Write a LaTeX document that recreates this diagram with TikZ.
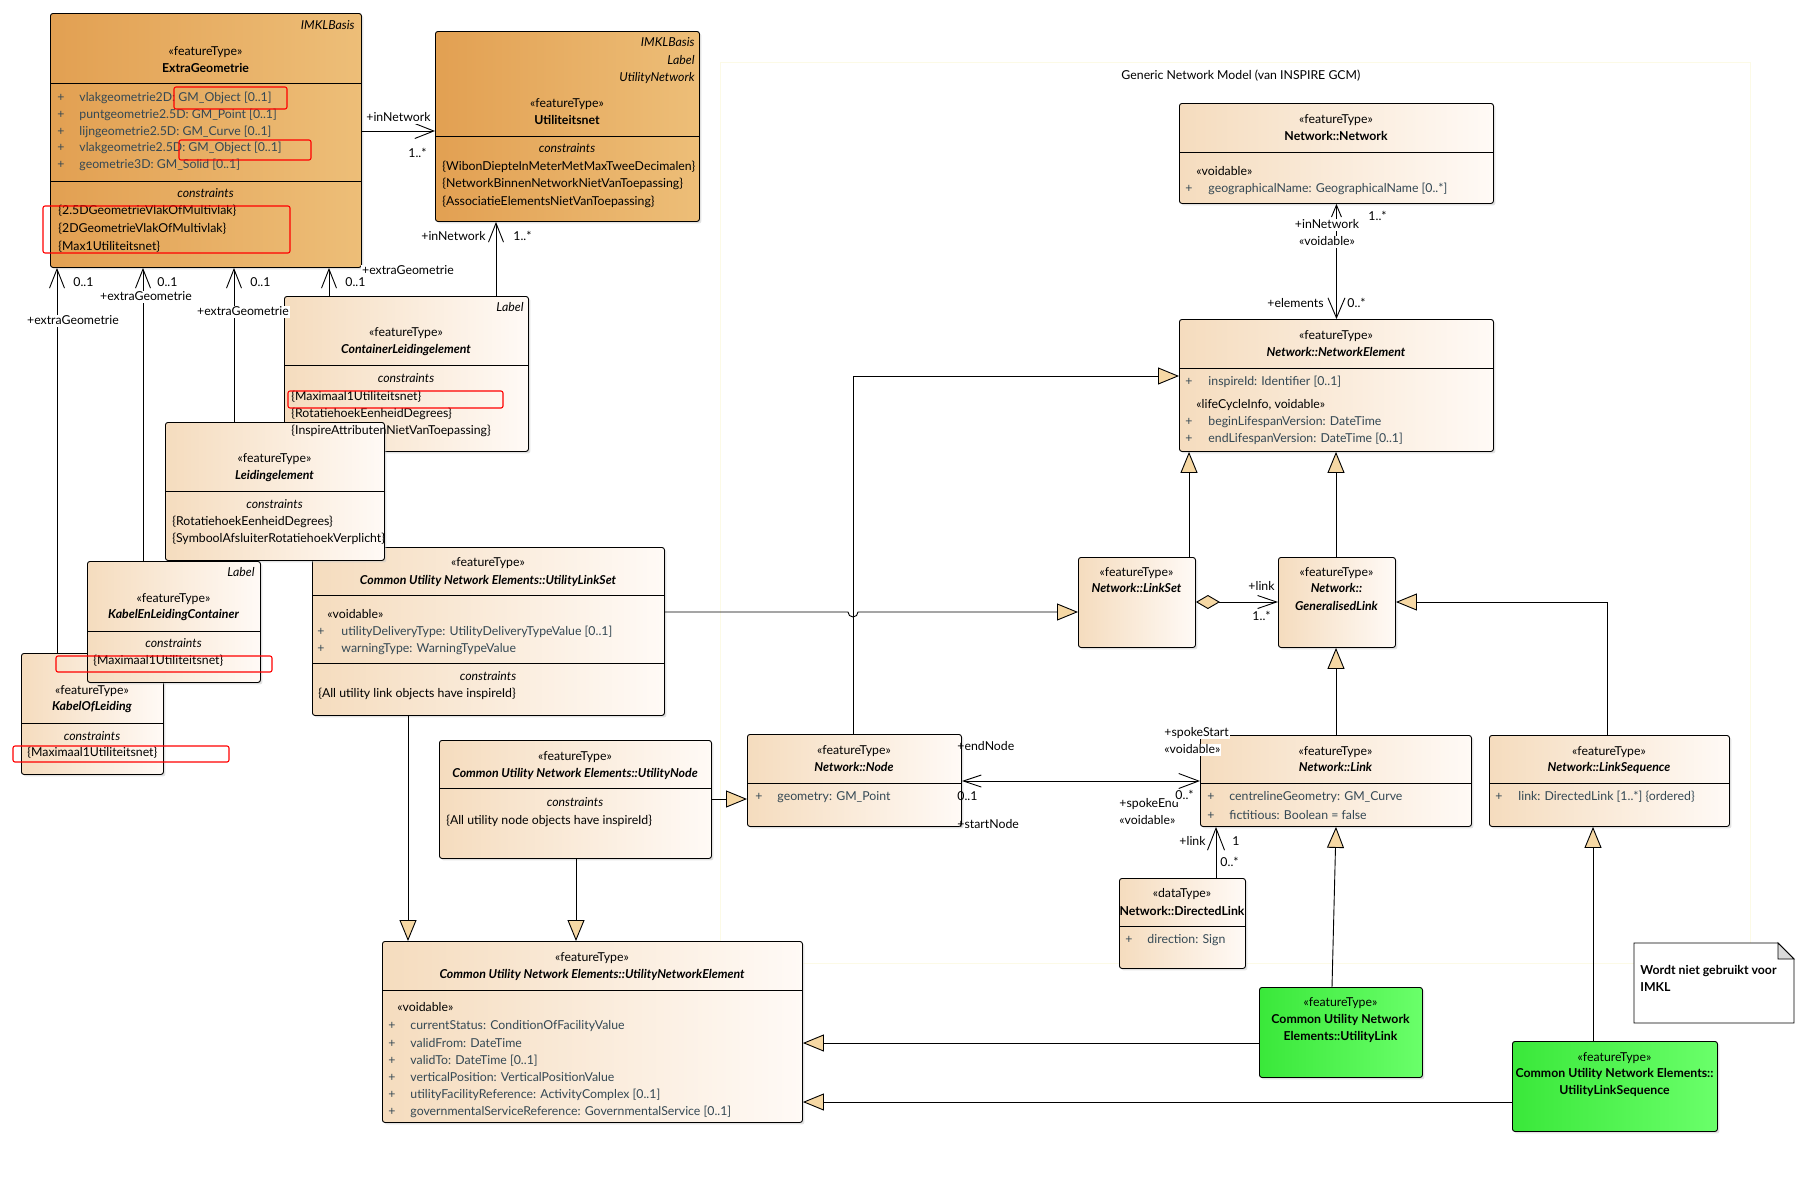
\documentclass[tikz,border=0pt]{standalone}
\usepackage{fontspec}
\setmainfont{Lato}
\usetikzlibrary{arrows.meta,shadows}

\definecolor{basisL}{RGB}{226,160,82}
\definecolor{basisR}{RGB}{237,190,120}
\definecolor{elemL}{RGB}{245,220,190}
\definecolor{elemR}{RGB}{255,250,246}
\definecolor{cuneL}{RGB}{58,232,58}
\definecolor{cuneR}{RGB}{106,255,106}
\definecolor{genfill}{RGB}{246,216,164}
\definecolor{attrcol}{RGB}{52,72,84}
\definecolor{framecol}{RGB}{252,250,230}

\newcommand{\umlsize}{\fontsize{12.3}{17}\selectfont}
\newcommand{\splitat}[2]{\draw (#1.west |- 0,#2) -- (#1.east |- 0,#2);}

\tikzset{
  classbox/.style = {draw, rounded corners=2.5pt, anchor=north west, inner sep=0pt,
                     drop shadow={shadow xshift=2pt, shadow yshift=-2pt, fill=black!22}},
  basisbox/.style = {classbox, left color=basisL, right color=basisR},
  elembox/.style  = {classbox, left color=elemL, right color=elemR},
  cunebox/.style  = {classbox, left color=cuneL, right color=cuneR},
  txt/.style      = {inner sep=0pt, text height=9.5pt, text depth=2.5pt, font=\umlsize},
  stereo/.style   = {txt},
  cname/.style    = {txt, font=\umlsize\bfseries},
  aname/.style    = {txt, font=\umlsize\bfseries\itshape},
  tagtext/.style  = {txt, anchor=east, font=\umlsize\itshape},
  comphead/.style = {txt, font=\umlsize\itshape},
  plusmark/.style = {txt, anchor=west, text=attrcol},
  attr/.style     = {txt, anchor=west, text=attrcol},
  cons/.style     = {txt, anchor=west},
  role/.style     = {txt, fill=white, inner xsep=1pt},
  gen/.style      = {-{Triangle[length=21pt,width=17pt,fill=genfill]}},
  nav/.style      = {-{Straight Barb[length=19pt,width=15pt]}},
  redmark/.style  = {draw=red, rounded corners=2pt, line width=1.1pt},
  modelframe/.style = {draw=framecol, line width=0.8pt}
}

\begin{document}
\begin{tikzpicture}[x=1pt, y=-1pt, line width=0.9pt]
  \fill[white] (0,0) rectangle (1817,1178);
  \useasboundingbox (0,0) rectangle (1817,1178);

  % Generic network model area
  \draw[modelframe] (720,62) rectangle (1750,963);
  \node[txt, anchor=west] (gnmTitle) at (1121,76) {Generic Network Model (van INSPIRE GCM)};

  % ExtraGeometrie
  \node[basisbox, minimum width=311pt, minimum height=254pt] (extraGeom) at (50,13) {};
  \splitat{extraGeom}{83}
  \splitat{extraGeom}{181}
  \node[tagtext] (extraGeom-tag) at (355,26) {IMKLBasis};
  \node[stereo] (extraGeom-st) at (205.5,52) {«featureType»};
  \node[cname] (extraGeom-nm) at (205.5,69) {ExtraGeometrie};
  \foreach \y/\txt [count=\i] in {98/{vlakgeometrie2D: GM\_Object [0..1]}, 115/{puntgeometrie2.5D: GM\_Point [0..1]},
      132/{lijngeometrie2.5D: GM\_Curve [0..1]}, 148/{vlakgeometrie2.5D: GM\_Object [0..1]}, 165/{geometrie3D: GM\_Solid [0..1]}}{
    \node[plusmark] (extraGeom-p\i) at (57,\y) {+};
    \node[attr] (extraGeom-a\i) at (79,\y) {\txt};
  }
  \node[comphead] (extraGeom-ch) at (205.5,194) {constraints};
  \foreach \y/\txt [count=\i] in {211/{\{2.5DGeometrieVlakOfMultivlak\}}, 229/{\{2DGeometrieVlakOfMultivlak\}}, 247/{\{Max1Utiliteitsnet\}}}{
    \node[cons] (extraGeom-c\i) at (58,\y) {\txt};
  }

  % Utiliteitsnet
  \node[basisbox, minimum width=264pt, minimum height=190pt] (utilNet) at (435,31) {};
  \splitat{utilNet}{136}
  \node[tagtext] (utilNet-t1) at (695,43) {IMKLBasis};
  \node[tagtext] (utilNet-t2) at (695,61) {Label};
  \node[tagtext] (utilNet-t3) at (695,78) {UtilityNetwork};
  \node[stereo] (utilNet-st) at (567,104) {«featureType»};
  \node[cname] (utilNet-nm) at (567,121) {Utiliteitsnet};
  \node[comphead] (utilNet-ch) at (567,149) {constraints};
  \foreach \y/\txt [count=\i] in {167/{\{WibonDiepteInMeterMetMaxTweeDecimalen\}}, 184/{\{NetworkBinnenNetworkNietVanToepassing\}},
      202/{\{AssociatieElementsNietVanToepassing\}}}{
    \node[cons] (utilNet-c\i) at (442,\y) {\txt};
  }

  % UtilityLinkSet
  \node[elembox, minimum width=352pt, minimum height=168pt] (utilLinkSet) at (312,547) {};
  \splitat{utilLinkSet}{595}
  \splitat{utilLinkSet}{663}
  \node[stereo] (utilLinkSet-st) at (488,563) {«featureType»};
  \node[aname] (utilLinkSet-nm) at (488,581) {Common Utility Network Elements::UtilityLinkSet};
  \node[cons] (utilLinkSet-v) at (327,615) {«voidable»};
  \foreach \y/\txt [count=\i] in {632/{utilityDeliveryType: UtilityDeliveryTypeValue [0..1]}, 649/{warningType: WarningTypeValue}}{
    \node[plusmark] (utilLinkSet-p\i) at (317,\y) {+};
    \node[attr] (utilLinkSet-a\i) at (341,\y) {\txt};
  }
  \node[comphead] (utilLinkSet-ch) at (488,677) {constraints};
  \node[cons] (utilLinkSet-c1) at (318,694) {\{All utility link objects have inspireId\}};

  % ContainerLeidingelement (its texts stay on top of Leidingelement)
  \node[elembox, minimum width=244pt, minimum height=155pt] (contLeiding) at (284,296) {};
  \splitat{contLeiding}{365}

  % Leidingelement
  \node[elembox, minimum width=219pt, minimum height=138pt] (leiding) at (165,422) {};
  \splitat{leiding}{491}
  \node[stereo] (leiding-st) at (274.5,459) {«featureType»};
  \node[aname] (leiding-nm) at (274.5,476) {Leidingelement};
  \node[comphead] (leiding-ch) at (274.5,505) {constraints};
  \node[cons] (leiding-c1) at (172,522) {\{RotatiehoekEenheidDegrees\}};
  \node[cons] (leiding-c2) at (172,539) {\{SymboolAfsluiterRotatiehoekVerplicht\}};

  \node[tagtext] (contLeiding-tag) at (524,308) {Label};
  \node[stereo] (contLeiding-st) at (406,333) {«featureType»};
  \node[aname] (contLeiding-nm) at (406,350) {ContainerLeidingelement};
  \node[comphead] (contLeiding-ch) at (406,379) {constraints};
  \foreach \y/\txt [count=\i] in {397/{\{Maximaal1Utiliteitsnet\}}, 414/{\{RotatiehoekEenheidDegrees\}},
      431/{\{InspireAttributenNietVanToepassing\}}}{
    \node[cons] (contLeiding-c\i) at (291,\y) {\txt};
  }

  % KabelOfLeiding
  \node[elembox, minimum width=142pt, minimum height=121pt] (kabelLeiding) at (21,653) {};
  \splitat{kabelLeiding}{723}
  \node[stereo] (kabelLeiding-st) at (92,691) {«featureType»};
  \node[aname] (kabelLeiding-nm) at (92,707) {KabelOfLeiding};
  \node[comphead] (kabelLeiding-ch) at (92,737) {constraints};
  \node[cons] (kabelLeiding-c1) at (27,753) {\{Maximaal1Utiliteitsnet\}};

  % KabelEnLeidingContainer
  \node[elembox, minimum width=173pt, minimum height=121pt] (kabelCont) at (87,561) {};
  \splitat{kabelCont}{631}
  \node[tagtext] (kabelCont-tag) at (255,573) {Label};
  \node[stereo] (kabelCont-st) at (173.5,599) {«featureType»};
  \node[aname] (kabelCont-nm) at (173.5,615) {KabelEnLeidingContainer};
  \node[comphead] (kabelCont-ch) at (173.5,644) {constraints};
  \node[cons] (kabelCont-c1) at (93,661) {\{Maximaal1Utiliteitsnet\}};

  % UtilityNode
  \node[elembox, minimum width=272pt, minimum height=118pt] (utilNode) at (439,740) {};
  \splitat{utilNode}{788}
  \node[stereo] (utilNode-st) at (575,757) {«featureType»};
  \node[aname] (utilNode-nm) at (575,774) {Common Utility Network Elements::UtilityNode};
  \node[comphead] (utilNode-ch) at (575,803) {constraints};
  \node[cons] (utilNode-c1) at (446,821) {\{All utility node objects have inspireId\}};

  % UtilityNetworkElement
  \node[elembox, minimum width=420pt, minimum height=181pt] (utilNetElem) at (382,941) {};
  \splitat{utilNetElem}{990}
  \node[stereo] (utilNetElem-st) at (592,958) {«featureType»};
  \node[aname] (utilNetElem-nm) at (592,975) {Common Utility Network Elements::UtilityNetworkElement};
  \node[cons] (utilNetElem-v) at (397,1008) {«voidable»};
  \foreach \y/\txt [count=\i] in {1026/{currentStatus: ConditionOfFacilityValue}, 1044/{validFrom: DateTime},
      1061/{validTo: DateTime [0..1]}, 1078/{verticalPosition: VerticalPositionValue},
      1095/{utilityFacilityReference: ActivityComplex [0..1]}, 1112/{governmentalServiceReference: GovernmentalService [0..1]}}{
    \node[plusmark] (utilNetElem-p\i) at (388,\y) {+};
    \node[attr] (utilNetElem-a\i) at (410,\y) {\txt};
  }

  % Network::Network
  \node[elembox, minimum width=314pt, minimum height=100pt] (network) at (1179,103) {};
  \splitat{network}{152}
  \node[stereo] (network-st) at (1336,120) {«featureType»};
  \node[cname] (network-nm) at (1336,137) {Network::Network};
  \node[cons] (network-v) at (1196,172) {«voidable»};
  \node[plusmark] (network-p1) at (1185,189) {+};
  \node[attr] (network-a1) at (1208,189) {geographicalName: GeographicalName [0..*]};

  % Network::NetworkElement
  \node[elembox, minimum width=314pt, minimum height=132pt] (netElem) at (1179,319) {};
  \splitat{netElem}{368}
  \node[stereo] (netElem-st) at (1336,336) {«featureType»};
  \node[aname] (netElem-nm) at (1336,353) {Network::NetworkElement};
  \node[plusmark] (netElem-p1) at (1185,382) {+};
  \node[attr] (netElem-a1) at (1208,382) {inspireId: Identifier [0..1]};
  \node[cons] (netElem-v) at (1196,405) {«lifeCycleInfo, voidable»};
  \foreach \y/\txt [count=\i from 2] in {422/{beginLifespanVersion: DateTime}, 439/{endLifespanVersion: DateTime [0..1]}}{
    \node[plusmark] (netElem-p\i) at (1185,\y) {+};
    \node[attr] (netElem-a\i) at (1208,\y) {\txt};
  }

  % Network::LinkSet and Network::GeneralisedLink
  \node[elembox, minimum width=117pt, minimum height=90pt] (linkSet) at (1078,557) {};
  \node[stereo] (linkSet-st) at (1136.5,573) {«featureType»};
  \node[aname] (linkSet-nm) at (1136.5,589) {Network::LinkSet};
  \node[elembox, minimum width=117pt, minimum height=90pt] (genLink) at (1278,557) {};
  \node[stereo] (genLink-st) at (1336.5,573) {«featureType»};
  \node[aname] (genLink-nm1) at (1336.5,589) {Network::};
  \node[aname] (genLink-nm2) at (1336.5,607) {GeneralisedLink};

  % Network::Node
  \node[elembox, minimum width=214pt, minimum height=92pt] (netNode) at (747,734) {};
  \splitat{netNode}{783}
  \node[stereo] (netNode-st) at (854,751) {«featureType»};
  \node[aname] (netNode-nm) at (854,768) {Network::Node};
  \node[plusmark] (netNode-p1) at (755,797) {+};
  \node[attr] (netNode-a1) at (777,797) {geometry: GM\_Point};

  % Network::Link
  \node[elembox, minimum width=271pt, minimum height=91pt] (netLink) at (1200,735) {};
  \splitat{netLink}{783}
  \node[stereo] (netLink-st) at (1335.5,752) {«featureType»};
  \node[aname] (netLink-nm) at (1335.5,768) {Network::Link};
  \foreach \y/\txt [count=\i] in {797/{centrelineGeometry: GM\_Curve}, 816/{fictitious: Boolean = false}}{
    \node[plusmark] (netLink-p\i) at (1207,\y) {+};
    \node[attr] (netLink-a\i) at (1229,\y) {\txt};
  }

  % Network::LinkSequence
  \node[elembox, minimum width=240pt, minimum height=91pt] (linkSeq) at (1489,735) {};
  \splitat{linkSeq}{783}
  \node[stereo] (linkSeq-st) at (1609,752) {«featureType»};
  \node[aname] (linkSeq-nm) at (1609,768) {Network::LinkSequence};
  \node[plusmark] (linkSeq-p1) at (1495,797) {+};
  \node[attr] (linkSeq-a1) at (1518,797) {link: DirectedLink [1..*] \{ordered\}};

  % Network::DirectedLink
  \node[elembox, minimum width=126pt, minimum height=90pt] (dirLink) at (1119,878) {};
  \splitat{dirLink}{926}
  \node[stereo] (dirLink-st) at (1182,894) {«dataType»};
  \node[cname] (dirLink-nm) at (1182,912) {Network::DirectedLink};
  \node[plusmark] (dirLink-p1) at (1125,940) {+};
  \node[attr] (dirLink-a1) at (1147,940) {direction: Sign};

  % Common Utility Network Elements (not used)
  \node[cunebox, minimum width=163pt, minimum height=90pt] (utilLink) at (1259,987) {};
  \node[stereo] (utilLink-st) at (1340.5,1003) {«featureType»};
  \node[cname] (utilLink-nm1) at (1340.5,1020) {Common Utility Network};
  \node[cname] (utilLink-nm2) at (1340.5,1037) {Elements::UtilityLink};
  \node[cunebox, minimum width=205pt, minimum height=90pt] (utilLinkSeq) at (1512,1041) {};
  \node[stereo] (utilLinkSeq-st) at (1614.5,1058) {«featureType»};
  \node[cname] (utilLinkSeq-nm1) at (1614.5,1074) {Common Utility Network Elements::};
  \node[cname] (utilLinkSeq-nm2) at (1614.5,1091) {UtilityLinkSequence};

  % Note
  \draw[fill=white] (1634,943) -- (1778,943) -- (1794,959) -- (1794,1023) -- (1634,1023) -- cycle;
  \draw[fill=black!14] (1778,943) -- (1778,959) -- (1794,959) -- cycle;
  \node[cname, anchor=west] (note-l1) at (1640,971) {Wordt niet gebruikt voor};
  \node[cname, anchor=west] (note-l2) at (1640,988) {IMKL};

  % Generalisations
  \draw[gen] (utilLinkSet.south -| 408,0) -- (utilNetElem.north -| 408,0);
  \draw[gen] (utilNode.south -| 576,0) -- (utilNetElem.north -| 576,0);
  \draw[gen] (utilNode.east |- 0,799) -- (netNode.west |- 0,799);
  \draw[gen] (utilLink.west |- 0,1043) -- (utilNetElem.east |- 0,1043);
  \draw[gen] (utilLinkSeq.west |- 0,1102) -- (utilNetElem.east |- 0,1102);
  \draw[gen] (utilLink.north -| 1332,0) -- (netLink.south -| 1336,0);
  \draw[gen] (utilLinkSeq.north -| 1593,0) -- (linkSeq.south -| 1593,0);
  \draw[gen] (netLink.north -| 1336,0) -- (genLink.south -| 1336,0);
  \draw[gen] (linkSeq.north -| 1607,0) |- (genLink.east |- 0,602);
  \draw[gen] (linkSet.north -| 1189,0) -- (netElem.south -| 1189,0);
  \draw[gen] (genLink.north -| 1336,0) -- (netElem.south -| 1336,0);
  \draw[gen] (netNode.north -| 853,0) |- (netElem.west |- 0,376);
  \coordinate (hop) at (848,612);
  \draw[gen] (utilLinkSet.east |- hop) -- (hop) arc[start angle=180, end angle=360, radius=5pt] -- (linkSet.west |- hop);

  % Associations
  \draw[nav] (57,0 |- kabelLeiding.north) -- (57,0 |- extraGeom.south);
  \draw[nav] (143,0 |- kabelCont.north) -- (143,0 |- extraGeom.south);
  \draw[nav] (234,0 |- leiding.north) -- (234,0 |- extraGeom.south);
  \draw[nav] (329,0 |- contLeiding.north) -- (329,0 |- extraGeom.south);
  \draw[nav] (extraGeom.east |- 0,131) -- (utilNet.west |- 0,131);
  \draw[nav] (496,0 |- contLeiding.north) -- (496,0 |- utilNet.south);
  \draw[{Straight Barb[length=12pt,width=10pt]}-{Straight Barb[length=20pt,width=17pt]}] (network.south) -- (netElem.north);
  \draw[{Diamond[length=24pt,width=14pt,fill=genfill]}-{Straight Barb[length=19pt,width=13pt]}] (linkSet.east |- 0,602) -- (genLink.west |- 0,602);
  \draw[{Straight Barb[length=18pt,width=12pt]}-{Straight Barb[length=20pt,width=15pt]}] (netNode.east |- 0,781) -- (netLink.west |- 0,781);
  \draw[-{Straight Barb[length=22pt,width=17pt]}] (1216,0 |- dirLink.north) -- (1216,0 |- netLink.south);

  % Role names and multiplicities
  \foreach \x [count=\i] in {73,157,250,345}{
    \node[txt, anchor=west] (eg-m\i) at (\x,283) {0..1};
  }
  \node[role] (eg-r1) at (73,321) {+extraGeometrie};
  \node[role] (eg-r2) at (146,297) {+extraGeometrie};
  \node[role] (eg-r3) at (243,312) {+extraGeometrie};
  \node[role] (eg-r4) at (408,271) {+extraGeometrie};
  \node[role, anchor=east] (un-r1) at (432,118) {+inNetwork};
  \node[txt, anchor=west] (un-m1) at (408,154) {1..*};
  \node[role, anchor=east] (un-r2) at (487,237) {+inNetwork};
  \node[txt, anchor=west] (un-m2) at (513,237) {1..*};
  \node[role] (nw-r1) at (1327,225) {+inNetwork};
  \node[role] (nw-v1) at (1327,242) {«voidable»};
  \node[txt, anchor=west] (nw-m1) at (1368,217) {1..*};
  \node[txt, anchor=east] (ne-r1) at (1324,304) {+elements};
  \node[txt, anchor=west] (ne-m1) at (1347,304) {0..*};
  \node[txt, anchor=east] (gl-r1) at (1275,587) {+link};
  \node[txt, anchor=west] (gl-m1) at (1252,617) {1..*};
  \node[txt, anchor=west] (nd-r1) at (957,747) {+endNode};
  \node[txt, anchor=west] (nd-m1) at (957,797) {0..1};
  \node[txt, anchor=west] (nd-r2) at (957,825) {+startNode};
  \node[role, anchor=west] (lk-r1) at (1163,733) {+spokeStart};
  \node[role, anchor=west] (lk-v1) at (1163,750) {«voidable»};
  \node[role, anchor=west] (lk-r2) at (1118,804) {+spokeEnd};
  \node[role, anchor=west] (lk-v2) at (1118,821) {«voidable»};
  \node[role, anchor=west] (lk-m1) at (1174,796) {0..*};
  \node[txt, anchor=east] (dl-r1) at (1206,842) {+link};
  \node[txt, anchor=west] (dl-m1) at (1232,842) {1};
  \node[txt, anchor=west] (dl-m2) at (1220,863) {0..*};

  % Red markings
  \draw[redmark] (174,87) rectangle (287,109);
  \draw[redmark] (179,140) rectangle (311,160);
  \draw[redmark] (43,206) rectangle (290,253);
  \draw[redmark] (288,391) rectangle (503,408);
  \draw[redmark] (56,656) rectangle (272,672);
  \draw[redmark] (13,746) rectangle (229,762);
\end{tikzpicture}
\end{document}
